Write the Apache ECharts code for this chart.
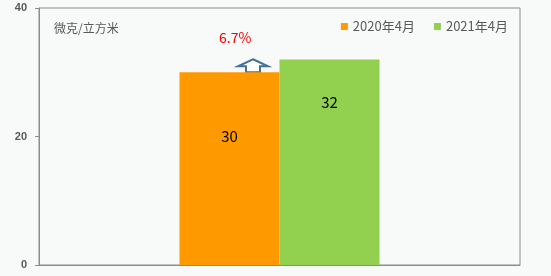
<!DOCTYPE html>
<html><head><meta charset="utf-8">
<script src="https://cdn.jsdelivr.net/npm/echarts@6/dist/echarts.min.js"></script>
<style>html,body{margin:0;padding:0;background:#f8f9f9}#c{width:551px;height:276px}</style>
</head><body><div id="c"></div>
<script>
const categories = [''];
const seriesNames = ['2020年4月', '2021年4月'];
const values2020 = [30];
const values2021 = [32];
const yTicks = [0, 20, 40];
const unitLabel = '微克/立方米';
const changeLabel = '6.7%';

const chart = echarts.init(document.getElementById('c'));
const font = '"Noto Sans CJK SC", "Noto Sans", sans-serif';
chart.setOption({
  backgroundColor: '#f8f9f9',
  animation: false,
  grid: {left: 39, right: 31, top: 8, bottom: 11, show: true, borderColor: '#8c8c8c', borderWidth: 1, backgroundColor: '#f8f9f9'},
  legend: {
    top: 15, right: 38, itemWidth: 7, itemHeight: 7, itemGap: 19, icon: 'rect',
    textStyle: {color: '#595959', fontSize: 13, fontFamily: font},
    data: seriesNames
  },
  xAxis: {type: 'category', data: categories, axisLine: {lineStyle: {color: '#8c8c8c'}}, axisTick: {show: false}, axisLabel: {show: false}},
  yAxis: {
    type: 'value', min: yTicks[0], max: yTicks[yTicks.length - 1], interval: 20,
    splitLine: {show: false},
    axisLine: {show: true, lineStyle: {color: '#8c8c8c'}},
    axisTick: {show: true, length: 4, lineStyle: {color: '#8c8c8c'}},
    axisLabel: {color: '#595959', fontSize: 11, fontWeight: 'bold', fontFamily: '"Liberation Sans", sans-serif', margin: 12}
  },
  series: [
    {name: seriesNames[0], type: 'bar', data: values2020, barWidth: 100, barGap: '0%',
     itemStyle: {color: '#ff9900'},
     label: {show: true, position: 'insideTop', distance: 57, color: '#000', fontSize: 15, fontFamily: font}},
    {name: seriesNames[1], type: 'bar', data: values2021, barWidth: 100,
     itemStyle: {color: '#92d050'},
     label: {show: true, position: 'insideTop', distance: 35, color: '#000', fontSize: 15, fontFamily: font}}
  ]
});

const p = chart.convertToPixel({xAxisIndex: 0, yAxisIndex: 0}, [0, values2020[0]]);
const ax = p[0] - 26.5, ay = p[1];
chart.setOption({
  graphic: [
    {type: 'text', left: 54, top: 22, style: {text: unitLabel, fill: '#595959', fontSize: 12, fontFamily: font}},
    {type: 'text', x: ax - 34, y: ay - 42, style: {text: changeLabel, fill: '#ff0000', fontSize: 14, fontFamily: font}},
    {type: 'polygon', shape: {points: [[ax, ay - 13], [ax + 15, ay - 6], [ax + 7, ay - 6], [ax + 7, ay], [ax - 7, ay], [ax - 7, ay - 6], [ax - 15, ay - 6]]},
     style: {fill: '#ffffff', stroke: '#41719c', lineWidth: 2}}
  ]
});
</script></body></html>
